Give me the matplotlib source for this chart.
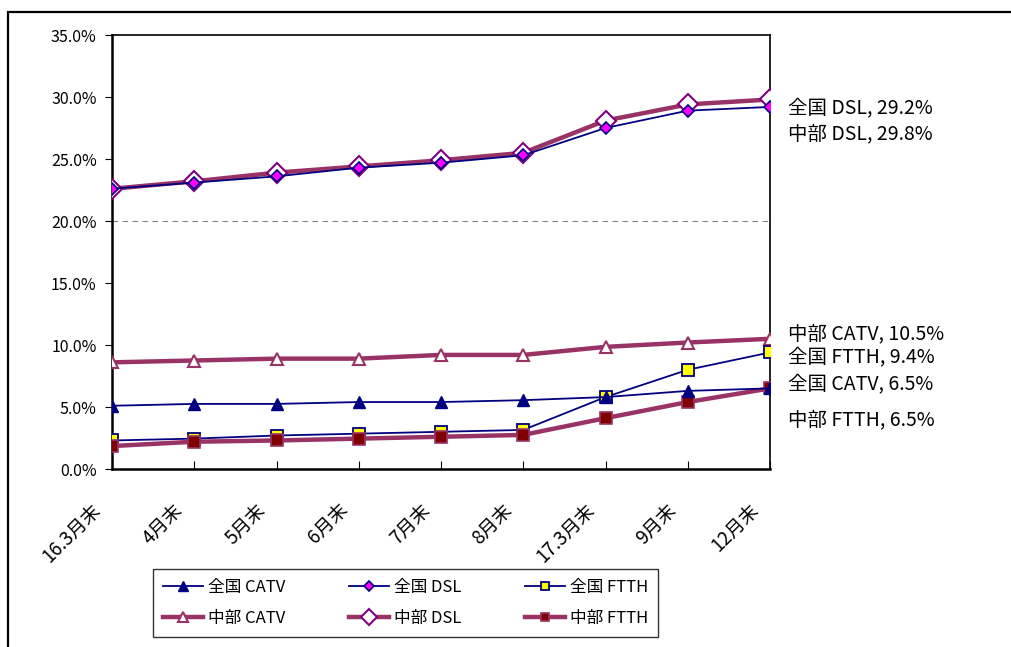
import matplotlib.pyplot as plt
from matplotlib.patches import Rectangle
from matplotlib.ticker import FuncFormatter
from matplotlib.transforms import ScaledTranslation

plt.rcParams['font.family'] = ['Noto Sans CJK JP', 'DejaVu Sans']

months = ["16.3月末", "4月末", "5月末", "6月末", "7月末", "8月末", "17.3月末", "9月末", "12月末"]

# shares in %
zen_catv = [5.1, 5.25, 5.25, 5.4, 5.4, 5.55, 5.8, 6.3, 6.5]
zen_dsl = [22.6, 23.1, 23.6, 24.3, 24.7, 25.3, 27.5, 28.9, 29.2]
zen_ftth = [2.3, 2.45, 2.7, 2.85, 3.0, 3.15, 5.8, 8.0, 9.4]
chu_catv = [8.6, 8.75, 8.9, 8.9, 9.2, 9.2, 9.85, 10.2, 10.5]
chu_dsl = [22.6, 23.2, 23.9, 24.4, 24.9, 25.5, 28.1, 29.4, 29.8]
chu_ftth = [1.85, 2.2, 2.3, 2.45, 2.6, 2.75, 4.1, 5.4, 6.5]

end_labels = [
    ("全国 DSL, 29.2%", 29.15),
    ("中部 DSL, 29.8%", 27.05),
    ("中部 CATV, 10.5%", 10.9),
    ("全国 FTTH, 9.4%", 9.05),
    ("全国 CATV, 6.5%", 6.85),
    ("中部 FTTH, 6.5%", 3.95),
]

navy = "#000080"
plum = "#993366"

fig = plt.figure(figsize=(10.11, 6.47), dpi=100)
fig.patches.append(Rectangle((8 / 1011, -0.01), 1.02, 1 - 11.5 / 647 + 0.01,
                             transform=fig.transFigure, fill=False,
                             edgecolor="black", linewidth=1.6))
ax = fig.add_axes([112 / 1011, 1 - 469 / 647, 658 / 1011, 434 / 647])

x = list(range(len(months)))

# 中部 series: thick plum lines
ax.plot(x, chu_catv, color=plum, lw=3.2, marker="^", ms=9, mfc="white",
        mec=plum, mew=1.5, label="中部 CATV", zorder=3)
ax.plot(x, chu_dsl, color=plum, lw=3.2, marker="D", ms=10, mfc="white",
        mec="#800080", mew=1.5, label="中部 DSL", zorder=3)
ax.plot(x, chu_ftth, color=plum, lw=3.2, marker="s", ms=8, mfc="#800000",
        mec=plum, mew=1.2, label="中部 FTTH", zorder=4)

# 全国 series: thin navy lines
ax.plot(x, zen_catv, color=navy, lw=1.3, marker="^", ms=9, mfc=navy,
        mec=navy, label="全国 CATV", zorder=5)
ax.plot(x, zen_dsl, color=navy, lw=1.3, marker="D", ms=6.5, mfc="#FF00FF",
        mec=navy, mew=1.2, label="全国 DSL", zorder=5)
ax.plot(x, zen_ftth, color=navy, lw=1.3, marker="s", ms=8, mfc="#FFFF00",
        mec=navy, mew=1.3, label="全国 FTTH", zorder=3.5)

ax.axhline(20, color="#808080", lw=0.8, ls=(0, (5, 4)), zorder=1)

ax.set_xlim(0, 8)
ax.set_ylim(0, 35)
ax.set_yticks(range(0, 36, 5))
ax.yaxis.set_major_formatter(FuncFormatter(lambda v, p: f"{v:.1f}%"))
ax.set_xticks(x)
ax.set_xticklabels(months, rotation=45, ha="right", va="center",
                   rotation_mode="anchor", fontsize=13.5)
ax.tick_params(axis="x", direction="in", length=6, pad=0)
ax.tick_params(axis="y", direction="out", length=5, labelsize=11.5, pad=6)
shift = ScaledTranslation(-0.14, -0.38, fig.dpi_scale_trans)
for lab in ax.get_xticklabels():
    lab.set_transform(lab.get_transform() + shift)
for s in ax.spines.values():
    s.set_linewidth(1.2)
ax.spines["left"].set_linewidth(1.8)
ax.spines["bottom"].set_linewidth(1.8)

for text, yv in end_labels:
    ax.text(8.22, yv, text, fontsize=14, va="center", ha="left", clip_on=False)

handles, labels = ax.get_legend_handles_labels()
order = [3, 0, 4, 1, 5, 2]
leg = fig.legend([handles[i] for i in order], [labels[i] for i in order],
                 ncol=3, loc="lower left",
                 bbox_to_anchor=(153 / 1011, 1 - 637 / 647, 505 / 1011, 70 / 647),
                 mode="expand", borderaxespad=0, fontsize=12, frameon=True,
                 fancybox=False, edgecolor="black", handlelength=2.4,
                 handletextpad=0.3, borderpad=0.6, labelspacing=0.85,
                 columnspacing=1.5)
leg.get_frame().set_linewidth(1.0)
for h in leg.legend_handles:
    h.set_markersize(h.get_markersize() * 0.8)

fig.savefig("out.png", dpi=100)
